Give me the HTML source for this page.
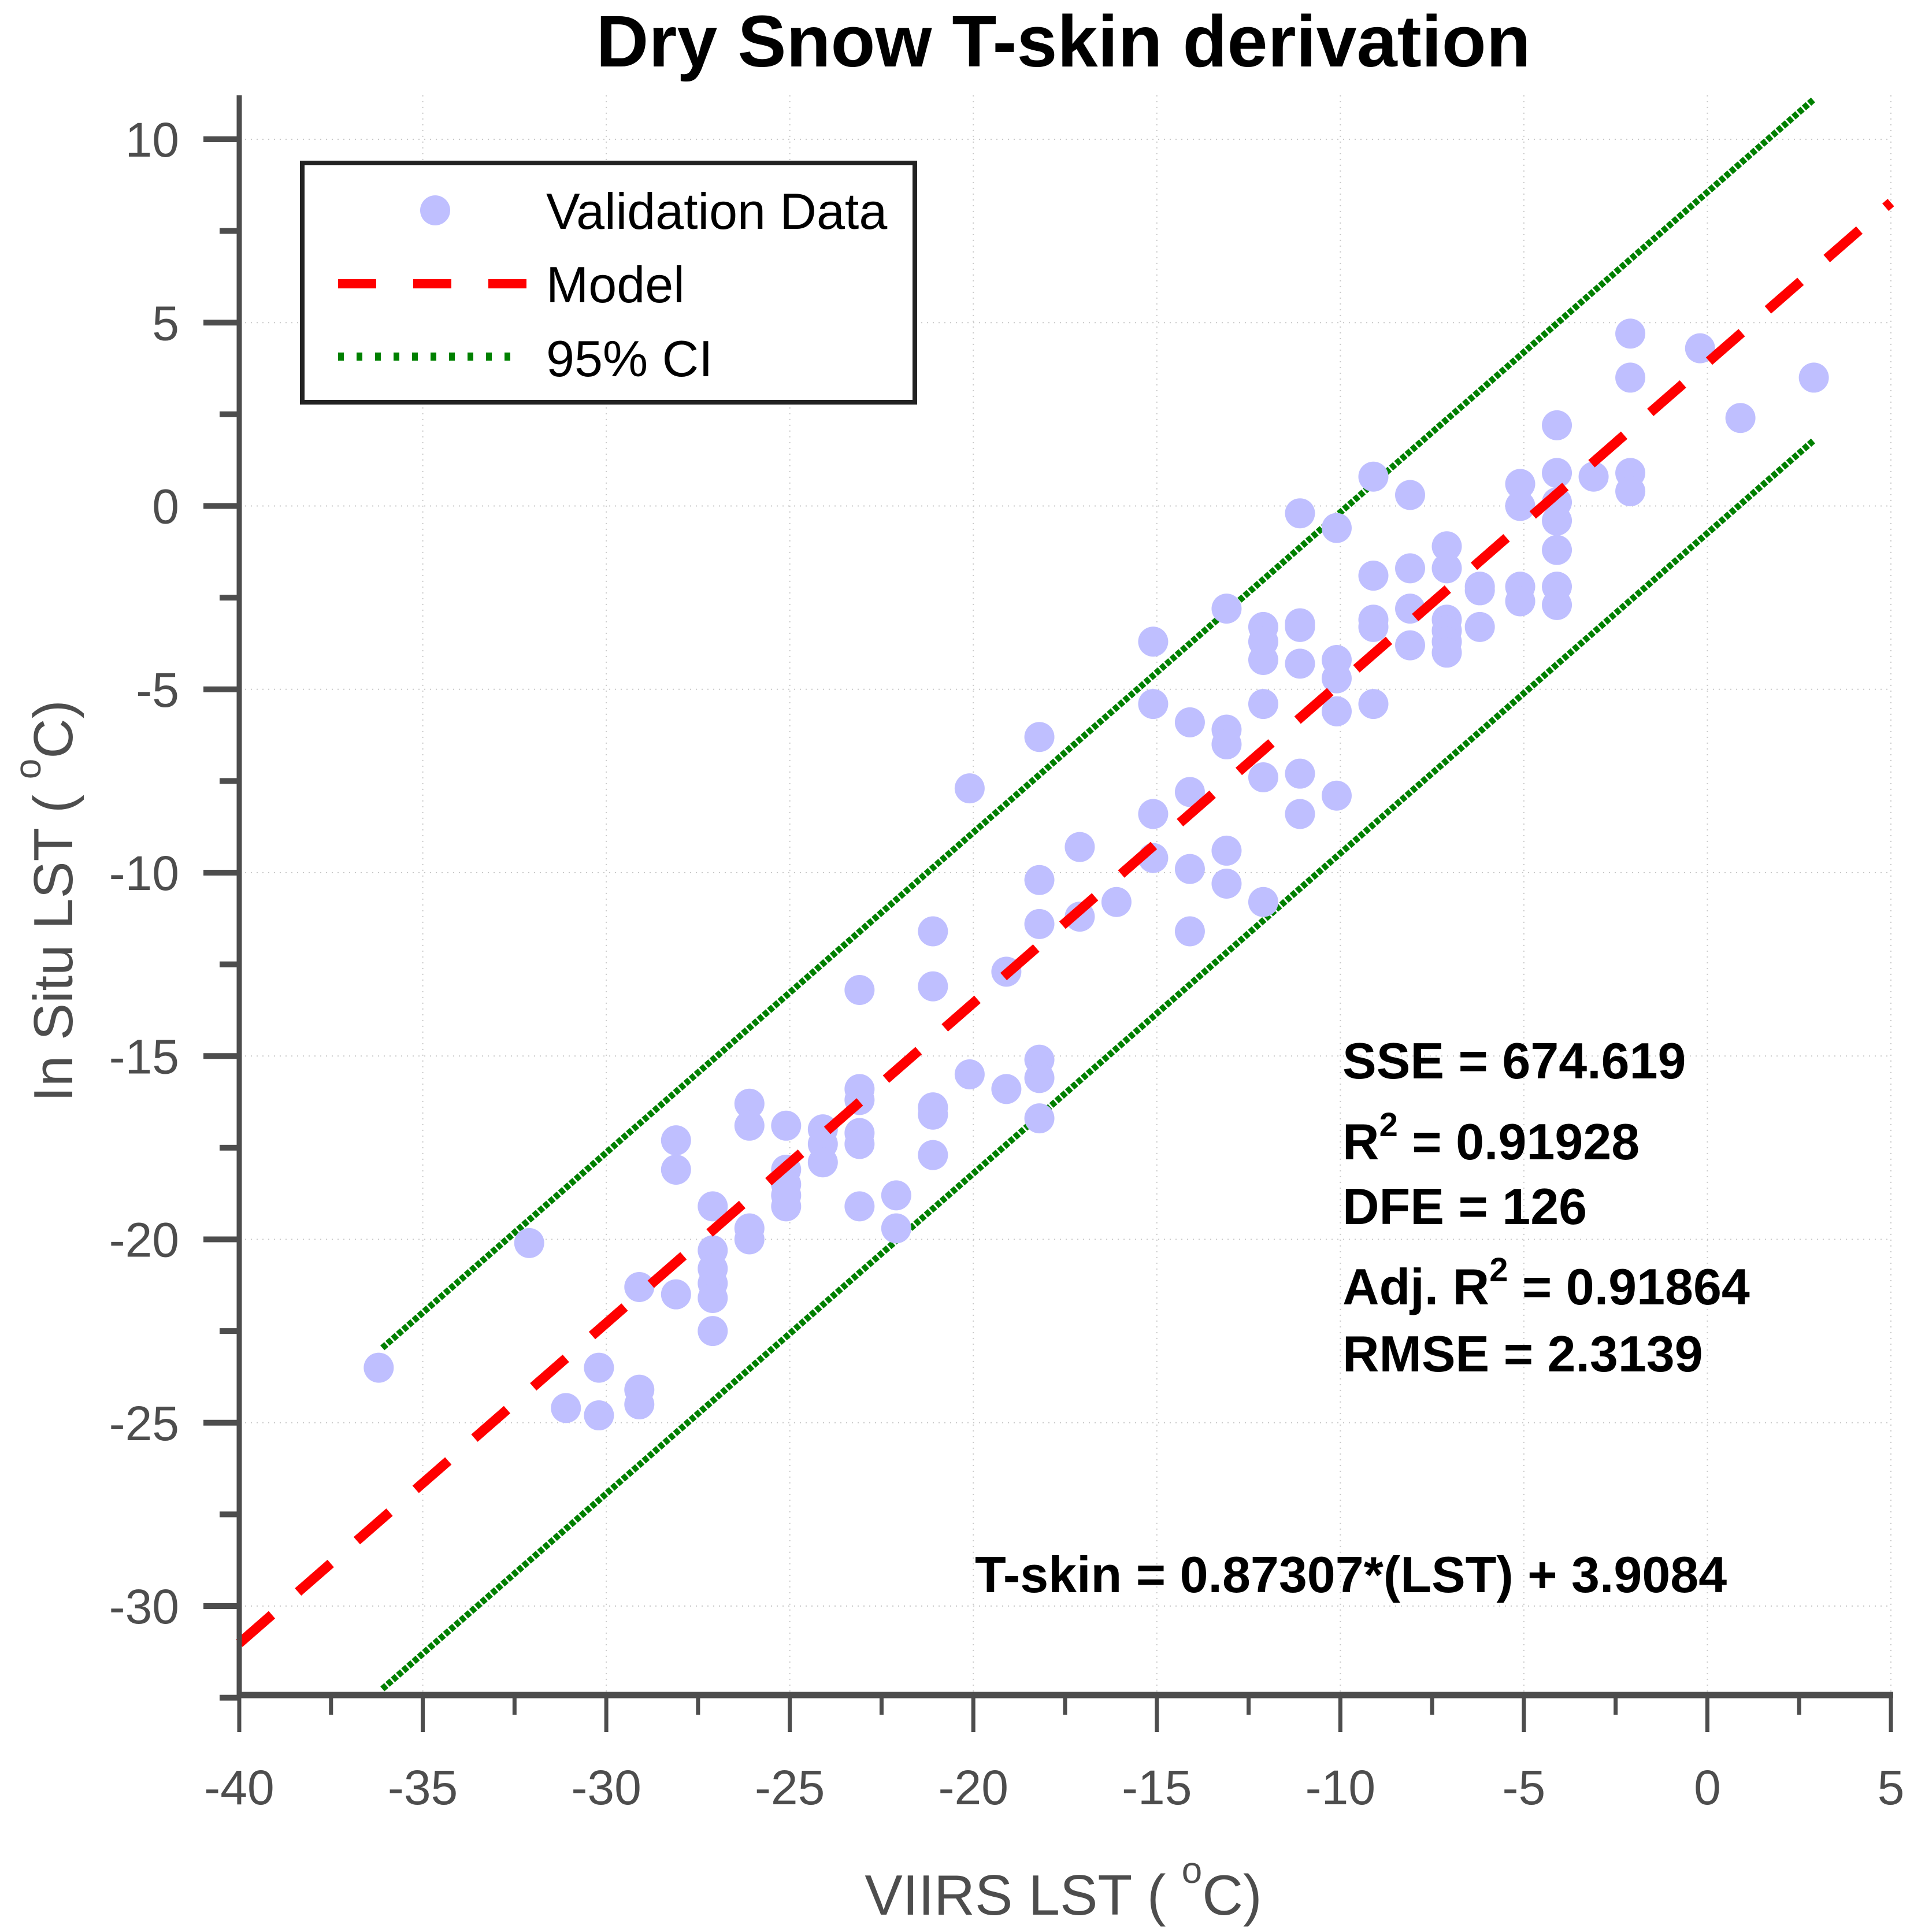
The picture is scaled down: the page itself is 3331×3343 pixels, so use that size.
<!DOCTYPE html>
<html><head><meta charset="utf-8"><style>
html,body{margin:0;padding:0;background:#fff}
svg{display:block;font-family:"Liberation Sans",Arial,sans-serif}
</style></head><body>
<svg id="chart" width="3331" height="3343" viewBox="0 0 3331 3343" xmlns="http://www.w3.org/2000/svg">
<rect width="3331" height="3343" fill="#fff"/>
<g id="grid"></g>
<g id="ci"></g>
<g id="pts"></g>
<g id="model"></g>
<g id="axes"></g>
<text x="1840" y="115" text-anchor="middle" font-size="126" font-weight="bold" fill="#000">Dry Snow T-skin derivation</text>
<text x="1840" y="3313" text-anchor="middle" font-size="98" fill="#4d4d4d">VIIRS LST ( <tspan dy="-55" font-size="64">o</tspan><tspan dy="55">C)</tspan></text>
<text transform="translate(125,1559) rotate(-90)" text-anchor="middle" font-size="96" fill="#4d4d4d">In Situ LST ( <tspan dy="-55" font-size="64">o</tspan><tspan dy="55">C)</tspan></text>
<g font-size="88" font-weight="bold" fill="#000">
<text x="2323" y="1866">SSE = 674.619</text>
<text x="2323" y="2006">R<tspan dy="-40" font-size="58">2</tspan><tspan dy="40"> = 0.91928</tspan></text>
<text x="2323" y="2118">DFE = 126</text>
<text x="2323" y="2257">Adj. R<tspan dy="-40" font-size="58">2</tspan><tspan dy="40"> = 0.91864</tspan></text>
<text x="2323" y="2373">RMSE = 2.3139</text>
<text x="1687" y="2755">T-skin = 0.87307*(LST) + 3.9084</text>
</g>
<g>
<rect x="523" y="282" width="1060" height="414" fill="#fff" stroke="#222" stroke-width="8"/>
<circle cx="753" cy="364" r="26" fill="#bfbfff"/>
<text x="945" y="396" font-size="88" fill="#000">Validation Data</text>
<line x1="585" y1="491" x2="912" y2="491" stroke="#f00" stroke-width="16" stroke-dasharray="66 64"/>
<text x="945" y="523" font-size="88" fill="#000">Model</text>
<line x1="585" y1="617" x2="890" y2="617" stroke="#008000" stroke-width="14" stroke-dasharray="10 22"/>
<text x="945" y="651" font-size="88" fill="#000">95% CI</text>
</g>
</svg>
<script>
const xVals=[-36.2,-32.1,-31.1,-30.2,-30.2,-29.1,-29.1,-29.1,-28.1,-28.1,-28.1,-27.1,-27.1,-27.1,-27.1,-27.1,-27.1,-26.1,-26.1,-26.1,-26.1,-25.1,-25.1,-25.1,-25.1,-25.1,-24.1,-24.1,-24.1,-23.1,-23.1,-23.1,-23.1,-23.1,-23.1,-22.1,-22.1,-21.1,-21.1,-21.1,-21.1,-21.1,-20.1,-20.1,-19.1,-19.1,-18.2,-18.2,-18.2,-18.2,-18.2,-18.2,-17.1,-17.1,-16.1,-15.1,-15.1,-15.1,-15.1,-14.1,-14.1,-14.1,-14.1,-13.1,-13.1,-13.1,-13.1,-13.1,-12.1,-12.1,-12.1,-12.1,-12.1,-12.1,-11.1,-11.1,-11.1,-11.1,-11.1,-11.1,-10.1,-10.1,-10.1,-10.1,-10.1,-9.1,-9.1,-9.1,-9.1,-9.1,-8.1,-8.1,-8.1,-8.1,-7.1,-7.1,-7.1,-7.1,-7.1,-7.1,-6.2,-6.2,-6.2,-5.1,-5.1,-5.1,-5.1,-4.1,-4.1,-4.1,-4.1,-4.1,-4.1,-4.1,-3.1,-2.1,-2.1,-2.1,-2.1,-0.2,0.9,2.9];
const yVals=[-23.5,-20.1,-24.6,-23.5,-24.8,-21.3,-24.1,-24.5,-17.3,-18.1,-21.5,-19.1,-20.3,-20.8,-21.2,-21.6,-22.5,-16.3,-16.9,-19.7,-20.0,-16.9,-18.1,-18.5,-18.8,-19.1,-17.0,-17.4,-17.9,-13.2,-15.9,-16.2,-17.1,-17.4,-19.1,-18.8,-19.7,-11.6,-13.1,-16.4,-16.6,-17.7,-7.7,-15.5,-12.7,-15.9,-6.3,-10.2,-11.4,-15.1,-15.6,-16.7,-9.3,-11.2,-10.8,-3.7,-5.4,-8.4,-9.6,-5.9,-7.8,-9.9,-11.6,-2.8,-6.1,-6.5,-9.4,-10.3,-3.3,-3.7,-4.2,-5.4,-7.4,-10.8,-0.2,-3.2,-3.3,-4.3,-7.3,-8.4,-0.6,-4.2,-4.7,-5.6,-7.9,0.8,-1.9,-3.1,-3.3,-5.4,0.3,-1.7,-2.8,-3.8,-1.1,-1.7,-3.1,-3.4,-3.7,-4.0,-2.2,-2.3,-3.3,0.6,0.0,-2.2,-2.6,2.2,0.9,0.1,-0.4,-1.2,-2.2,-2.7,0.8,4.7,3.5,0.9,0.4,4.3,2.4,3.5];
const modelSlope=[0.87307];
const modelIntercept=[3.9084];
const modelRange=[-40,5];
const ciHalfWidth=[4.65];
const ciRange=[-36.1,2.9];
const xTicks=[-40,-35,-30,-25,-20,-15,-10,-5,0,5];
const yTicks=[10,5,0,-5,-10,-15,-20,-25,-30];
const xMinor=[-37.5,-32.5,-27.5,-22.5,-17.5,-12.5,-7.5,-2.5,2.5];
const yMinor=[7.5,2.5,-2.5,-7.5,-12.5,-17.5,-22.5,-27.5,-32.5];

const NS='http://www.w3.org/2000/svg';
const X0=414,X1=3272,Y10=241,YU=63.45,AXY=2933;
const sx=v=>X0+(v+40)*(X1-X0)/45;
const sy=v=>Y10+(10-v)*YU;
function mk(tag,attrs,parent){const e=document.createElementNS(NS,tag);for(const k in attrs)e.setAttribute(k,attrs[k]);parent.appendChild(e);return e;}
const grid=document.getElementById('grid'),ax=document.getElementById('axes'),pts=document.getElementById('pts'),ci=document.getElementById('ci'),md=document.getElementById('model');
const yTop=sy(11.2);
xTicks.forEach(v=>{if(v===-40)return;const l=mk('line',{x1:sx(v),x2:sx(v),y1:yTop,y2:AXY,stroke:'#c8c8c8','stroke-width':2,'stroke-dasharray':'2 8'},grid);

});
yTicks.forEach(v=>{const l=mk('line',{x1:X0,x2:X1,y1:sy(v),y2:sy(v),stroke:'#c8c8c8','stroke-width':2,'stroke-dasharray':'2 8'},grid);

});
[1,-1].forEach(s=>{const a=ciRange[0],b=ciRange[1];const f=v=>modelSlope[0]*v+modelIntercept[0]+s*ciHalfWidth[0];
const l=mk('line',{x1:sx(a),y1:sy(f(a)),x2:sx(b),y2:sy(f(b)),stroke:'#008000','stroke-width':11,'stroke-dasharray':'9 3'},ci);

});
xVals.forEach((x,i)=>{const c=mk('circle',{cx:sx(x),cy:sy(yVals[i]),r:26,fill:'#bfbfff'},pts);

});
{const f=v=>modelSlope[0]*v+modelIntercept[0];const l=mk('line',{x1:sx(modelRange[0]),y1:sy(f(modelRange[0])),x2:sx(modelRange[1]),y2:sy(f(modelRange[1])),stroke:'#f00','stroke-width':17,'stroke-dasharray':'75 60'},md);

}
{const l=mk('line',{x1:X0,x2:X0,y1:yTop,y2:AXY+5,stroke:'#4d4d4d','stroke-width':9},ax);


const b=mk('line',{x1:X0-4,x2:X1+4,y1:AXY,y2:AXY,stroke:'#4d4d4d','stroke-width':11},ax);

}
xTicks.forEach(v=>{const t=mk('line',{x1:sx(v),x2:sx(v),y1:AXY,y2:AXY+64,stroke:'#4d4d4d','stroke-width':7},ax);


const tx=mk('text',{x:sx(v),y:3122,'text-anchor':'middle','font-size':84,fill:'#4d4d4d'},ax);tx.textContent=v;

});
xMinor.forEach(v=>{const t=mk('line',{x1:sx(v),x2:sx(v),y1:AXY,y2:AXY+34,stroke:'#4d4d4d','stroke-width':7},ax);

});
yTicks.forEach(v=>{const t=mk('line',{x1:X0-62,x2:X0,y1:sy(v),y2:sy(v),stroke:'#4d4d4d','stroke-width':10},ax);


const tx=mk('text',{x:310,y:sy(v)+30,'text-anchor':'end','font-size':84,fill:'#4d4d4d'},ax);tx.textContent=v;

});
yMinor.forEach(v=>{const t=mk('line',{x1:X0-34,x2:X0,y1:sy(v),y2:sy(v),stroke:'#4d4d4d','stroke-width':10},ax);

});
</script>
</body></html>
